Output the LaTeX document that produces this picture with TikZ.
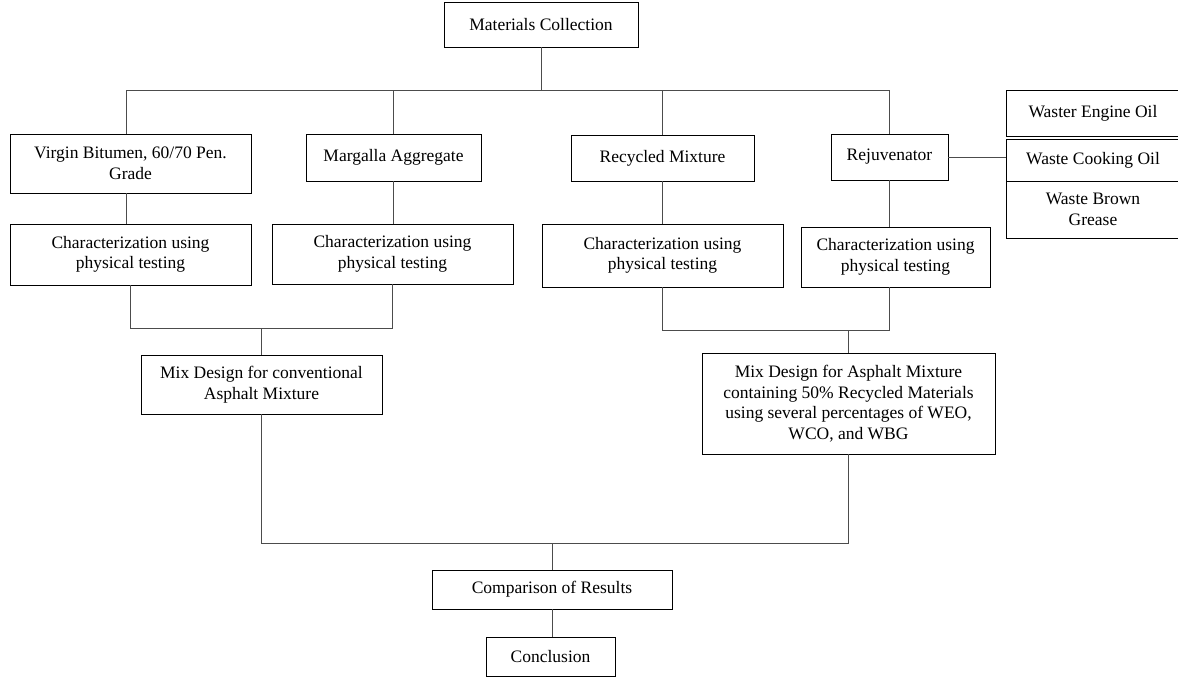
\documentclass[tikz,border=0pt]{standalone}
\usepackage{fontspec}
\setmainfont{Liberation Serif}
\begin{document}
\begin{tikzpicture}[x=1pt,y=-1pt,
  box/.style={draw=black, line width=0.9pt, align=center, inner sep=0pt,
    font=\fontsize{17.5}{20.5}\selectfont},
  conn/.style={draw=black!70, line width=0.9pt}]
\useasboundingbox (0,0) rectangle (1178,679);
\node[box, minimum width=194, minimum height=45] (mc) at (541,24.5) {Materials Collection};
\node[box, minimum width=241, minimum height=59] (vb) at (130.5,163.5) {Virgin Bitumen, 60/70 Pen.\\Grade};
\node[box, minimum width=175, minimum height=47] (ma) at (393.5,157.5) {Margalla Aggregate};
\node[box, minimum width=183, minimum height=46] (rm) at (662.5,158) {Recycled Mixture};
\node[box, minimum width=117, minimum height=46] (rj) at (889.5,157) {Rejuvenator};
\node[box, minimum width=174, minimum height=46] (weo) at (1093,113) {Waster Engine Oil};
\node[box, minimum width=174, minimum height=42] (wco) at (1093,160) {Waste Cooking Oil};
\node[box, minimum width=174, minimum height=57] (wbg) at (1093,209.5) {Waste Brown\\Grease};
\node[box, minimum width=241, minimum height=61] (c1) at (130.5,254.5) {Characterization using\\physical testing};
\node[box, minimum width=241, minimum height=60] (c2) at (392.5,254) {Characterization using\\physical testing};
\node[box, minimum width=241, minimum height=63] (c3) at (662.5,255.5) {Characterization using\\physical testing};
\node[box, minimum width=189, minimum height=60] (c4) at (895.5,257) {Characterization using\\physical testing};
\node[box, minimum width=241, minimum height=59] (md1) at (261.5,384.5) {Mix Design for conventional\\Asphalt Mixture};
\node[box, minimum width=293, minimum height=101] (md2) at (848.5,403.5) {Mix Design for Asphalt Mixture\\containing 50\% Recycled Materials\\using several percentages of WEO,\\WCO, and WBG};
\node[box, minimum width=240, minimum height=39] (cr) at (552,589.5) {Comparison of Results};
\node[box, minimum width=129, minimum height=39] (cl) at (550.5,656.5) {Conclusion};
\coordinate (h1) at (0,90);
\coordinate (u1) at (0,328);
\coordinate (u2) at (0,330);
\coordinate (u3) at (0,543);
% top tree
\draw[conn] (mc.south) -- (mc.south |- h1);
\draw[conn] ([xshift=-4pt]vb.north) -- ([xshift=-4pt]vb.north |- h1) -| (rj.north);
\draw[conn] (ma.north) -- (ma.north |- h1);
\draw[conn] (rm.north) -- (rm.north |- h1);
% to characterization
\draw[conn] ([xshift=-4pt]vb.south) -- ([xshift=-4pt]vb.south |- c1.north);
\draw[conn] (ma.south) -- (ma.south |- c2.north);
\draw[conn] (rm.south) -- (rm.south |- c3.north);
\draw[conn] (rj.south) -- (rj.south |- c4.north);
\draw[conn] (rj.east) -- (rj.east -| wco.west);
% left merge
\draw[conn] (c1.south) -- (c1.south |- u1) -| (c2.south);
\draw[conn] (md1.north |- u1) -- (md1.north);
% right merge
\draw[conn] (c3.south) -- (c3.south |- u2) -| (rj.south |- c4.south);
\draw[conn] (md2.north |- u2) -- (md2.north);
% bottom
\draw[conn] (md1.south) -- (md1.south |- u3) -| (md2.south);
\draw[conn] (cr.north |- u3) -- (cr.north);
\draw[conn] (cr.south) -- (cr.south |- cl.north);
\end{tikzpicture}
\end{document}
